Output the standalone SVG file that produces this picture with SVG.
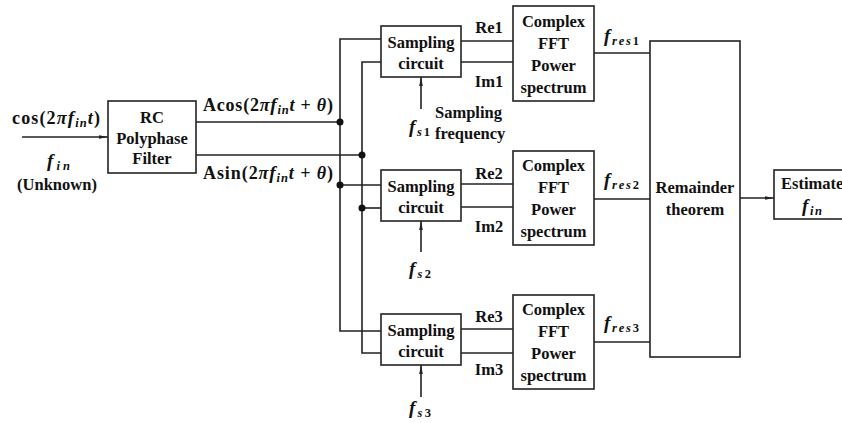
<svg xmlns="http://www.w3.org/2000/svg" width="842" height="423" viewBox="0 0 842 423">
<style>
.b{fill:#fff;stroke:#222;stroke-width:1.6}
.w{stroke:#222;stroke-width:1.6;fill:none}
text{font-family:"Liberation Serif","Times New Roman",serif;font-weight:bold;font-size:16.5px;fill:#111}
.c{text-anchor:middle}
.m{font-size:18px}
.i{font-style:italic}
.f{font-style:italic;font-size:19px}
.s{font-size:12.5px}
.d{fill:#111}
</style>
<defs>
<marker id="a" viewBox="0 0 10 10" refX="10" refY="5" markerWidth="9" markerHeight="9" orient="auto" markerUnits="userSpaceOnUse">
<path d="M0,3 L10,5 L0,7 z" fill="#222"/>
</marker>
</defs>
<g id="connectors">
<line class="w" x1="22" y1="137" x2="108" y2="137" marker-end="url(#a)"/>
<polyline class="w" points="196,122 340,122"/>
<polyline class="w" points="196,155 362,155"/>
<polyline class="w" points="381,39 340,39 340,331 381,331"/>
<polyline class="w" points="340,185 381,185"/>
<polyline class="w" points="381,62 362,62 362,353 381,353"/>
<polyline class="w" points="362,208 381,208"/>
<circle class="d" cx="340" cy="122" r="3.5"/>
<circle class="d" cx="362" cy="155" r="3.5"/>
<circle class="d" cx="340" cy="185" r="3.5"/>
<circle class="d" cx="362" cy="208" r="3.5"/>
<line class="w" x1="421" y1="109" x2="421" y2="77" marker-end="url(#a)"/>
<line class="w" x1="421" y1="252" x2="421" y2="221" marker-end="url(#a)"/>
<line class="w" x1="421" y1="397" x2="421" y2="365" marker-end="url(#a)"/>
<line class="w" x1="461" y1="41" x2="513" y2="41"/>
<line class="w" x1="461" y1="62" x2="513" y2="62"/>
<line class="w" x1="461" y1="184" x2="513" y2="184"/>
<line class="w" x1="461" y1="207" x2="513" y2="207"/>
<line class="w" x1="461" y1="329" x2="513" y2="329"/>
<line class="w" x1="461" y1="353" x2="513" y2="353"/>
<line class="w" x1="594" y1="53" x2="650" y2="53"/>
<line class="w" x1="594" y1="199" x2="650" y2="199"/>
<line class="w" x1="594" y1="342" x2="650" y2="342"/>
<line class="w" x1="740" y1="198" x2="774" y2="198" marker-end="url(#a)"/>
</g>
<g id="labels">
<text x="12" y="124" class="m" textLength="88" lengthAdjust="spacing">cos(2<tspan class="i">π</tspan><tspan class="f">f</tspan><tspan class="i s" dy="3">in</tspan><tspan class="i" dy="-3">t</tspan>)</text>
<text x="47" y="167" textLength="23" lengthAdjust="spacing"><tspan class="f">f</tspan><tspan class="i s" dy="3">in</tspan></text>
<text x="57" y="190" class="c">(Unknown)</text>
<text x="203" y="111" class="m" textLength="130" lengthAdjust="spacing">Acos(2<tspan class="i">π</tspan><tspan class="f">f</tspan><tspan class="i s" dy="3">in</tspan><tspan class="i" dy="-3">t</tspan> + <tspan class="i">θ</tspan>)</text>
<text x="203" y="179" class="m" textLength="130" lengthAdjust="spacing">Asin(2<tspan class="i">π</tspan><tspan class="f">f</tspan><tspan class="i s" dy="3">in</tspan><tspan class="i" dy="-3">t</tspan> + <tspan class="i">θ</tspan>)</text>
<text x="489" y="33" class="c">Re1</text>
<text x="489" y="87" class="c">Im1</text>
<text x="489" y="179" class="c">Re2</text>
<text x="489" y="232" class="c">Im2</text>
<text x="489" y="322" class="c">Re3</text>
<text x="489" y="375" class="c">Im3</text>
<text x="409" y="133" textLength="21" lengthAdjust="spacing"><tspan class="f">f</tspan><tspan class="i s" dy="3">s</tspan><tspan class="s">1</tspan></text>
<text x="409" y="275" textLength="22" lengthAdjust="spacing"><tspan class="f">f</tspan><tspan class="i s" dy="3">s</tspan><tspan class="s">2</tspan></text>
<text x="409" y="414" textLength="22" lengthAdjust="spacing"><tspan class="f">f</tspan><tspan class="i s" dy="3">s</tspan><tspan class="s">3</tspan></text>
<text x="435" y="118">Sampling</text>
<text x="435" y="139">frequency</text>
<text x="604" y="42" textLength="35" lengthAdjust="spacing"><tspan class="f">f</tspan><tspan class="i s" dy="3">res</tspan><tspan class="s">1</tspan></text>
<text x="604" y="186" textLength="35" lengthAdjust="spacing"><tspan class="f">f</tspan><tspan class="i s" dy="3">res</tspan><tspan class="s">2</tspan></text>
<text x="604" y="329" textLength="35" lengthAdjust="spacing"><tspan class="f">f</tspan><tspan class="i s" dy="3">res</tspan><tspan class="s">3</tspan></text>
</g>
<g id="rc-filter">
<rect class="b" x="108" y="101" width="88" height="72"/>
<text x="152" y="123" class="c">RC</text>
<text x="152" y="144" class="c">Polyphase</text>
<text x="152" y="164" class="c">Filter</text>
</g>
<g id="sampling1">
<rect class="b" x="381" y="26" width="80" height="51"/>
<text x="421" y="48" class="c">Sampling</text>
<text x="421" y="69" class="c">circuit</text>
</g>
<g id="sampling2">
<rect class="b" x="381" y="170" width="80" height="51"/>
<text x="421" y="192" class="c">Sampling</text>
<text x="421" y="213" class="c">circuit</text>
</g>
<g id="sampling3">
<rect class="b" x="381" y="314" width="80" height="51"/>
<text x="421" y="336" class="c">Sampling</text>
<text x="421" y="357" class="c">circuit</text>
</g>
<g id="fft1">
<rect class="b" x="513" y="6" width="81" height="95"/>
<text x="553.5" y="27" class="c">Complex</text>
<text x="553.5" y="49" class="c">FFT</text>
<text x="553.5" y="71" class="c">Power</text>
<text x="553.5" y="93" class="c">spectrum</text>
</g>
<g id="fft2">
<rect class="b" x="513" y="151" width="81" height="94"/>
<text x="553.5" y="171" class="c">Complex</text>
<text x="553.5" y="193" class="c">FFT</text>
<text x="553.5" y="215" class="c">Power</text>
<text x="553.5" y="237" class="c">spectrum</text>
</g>
<g id="fft3">
<rect class="b" x="513" y="295" width="81" height="94"/>
<text x="553.5" y="315" class="c">Complex</text>
<text x="553.5" y="337" class="c">FFT</text>
<text x="553.5" y="359" class="c">Power</text>
<text x="553.5" y="381" class="c">spectrum</text>
</g>
<g id="remainder">
<rect class="b" x="650" y="41" width="90" height="316"/>
<text x="695" y="193" class="c">Remainder</text>
<text x="695" y="215" class="c">theorem</text>
</g>
<g id="estimate">
<rect class="b" x="774" y="170" width="80" height="49"/>
<text x="781" y="189">Estimate</text>
<text x="802" y="212" textLength="20" lengthAdjust="spacing"><tspan class="f">f</tspan><tspan class="i s" dy="3">in</tspan></text>
</g>
</svg>
